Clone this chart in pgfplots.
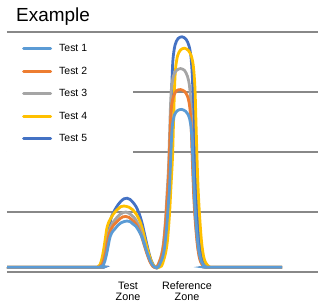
\documentclass[border=0pt]{standalone}
\usepackage{fontspec}
\setmainfont{Liberation Sans}
\usepackage{pgfplots}
\pgfplotsset{compat=1.18}
\definecolor{cA}{HTML}{5B9BD5}
\definecolor{cB}{HTML}{ED7D31}
\definecolor{cC}{HTML}{A5A5A5}
\definecolor{cD}{HTML}{FFC000}
\definecolor{cE}{HTML}{4472C4}
\definecolor{gridgray}{HTML}{888888}
\begin{document}
\begin{tikzpicture}
\useasboundingbox (-7bp,-30bp) rectangle (311bp,272bp);
\begin{axis}[
 at={(0,0)}, anchor=south west,
 scale only axis, width=311bp, height=240bp,
 xmin=7, xmax=318, ymin=0, ymax=4,
 ytick={0,1,2,3,4}, yticklabels={}, ymajorgrids,
 grid style={line width=2bp, color=gridgray},
 axis line style={draw=none},
 tick style={draw=none},
 xtick={128,187}, xticklabels={Test\\Zone, Reference\\Zone},
 xticklabel style={align=center, font=\fontsize{10.8}{11}\selectfont, inner sep=0pt, yshift=-10bp},
 title={Example},
 title style={at={(0,1)}, anchor=base west, xshift=9bp, yshift=5bp, inner sep=0pt, font=\fontsize{19}{22}\selectfont},
 legend style={at={(0,1)}, anchor=north west, yshift=-1bp, draw=none, fill=white,
   inner xsep=15bp, inner ysep=4bp, row sep=0pt,
   font=\fontsize{10.5}{12}\selectfont, nodes={inner sep=0pt, minimum height=22.6bp}},
 legend image code/.code={\draw[#1, line cap=round, line width=3bp] (1.5bp,0pt) -- (28.5bp,0pt);},
 legend cell align=left,
 reverse legend,
 every axis plot/.append style={line width=2.8bp, smooth, tension=0.5},
]
% Test 5
\addplot[cE] coordinates {(7,0.08)(98,0.08)(101,0.09)(103,0.13)(105,0.25)(107,0.45)(108.5,0.65)(110,0.82)(112,0.94)(115,1.04)(118,1.12)(121,1.18)(124,1.22)(127,1.23)(130,1.21)(133,1.16)(136,1.09)(139,0.98)(142,0.82)(145,0.60)(148,0.38)(151,0.20)(154,0.10)(157,0.07)
(159,0.10)(161,0.20)(163,0.32)(165,0.55)(167,1.00)(168.5,1.50)(170,2.00)(171,2.60)(172,3.20)(173,3.55)(175,3.78)(178,3.89)(182,3.92)(186,3.88)(189,3.77)(191,3.58)(192.5,3.20)(193.5,2.60)(194.5,2.00)(195.5,1.50)(197,1.00)(199,0.53)(201,0.28)(203,0.16)(206,0.10)(210,0.08)(282,0.08)};
\addlegendentry{\makebox[66bp][l]{\hspace{7bp}Test 5}}
% Test 4
\addplot[cD] coordinates {(7,0.08)(95,0.08)(98,0.09)(100,0.12)(102,0.23)(104,0.41)(105.5,0.58)(107,0.74)(109,0.84)(112,0.93)(115,1.00)(118,1.05)(121,1.09)(124,1.10)(129,1.08)(132.5,1.04)(136,0.97)(139,0.88)(142,0.74)(145,0.54)(148,0.35)(151,0.19)(154,0.10)(157,0.07)
(161.5,0.10)(163.5,0.19)(165.5,0.31)(167.5,0.53)(169.5,0.96)(171,1.43)(172.5,1.91)(173.5,2.48)(174.5,3.05)(175.5,3.38)(177.5,3.60)(180.5,3.70)(184.5,3.73)(188.5,3.69)(191.5,3.59)(193.5,3.41)(195,3.05)(196,2.48)(197,1.91)(198,1.43)(199.5,0.96)(201.5,0.51)(203.5,0.27)(205.5,0.16)(208.5,0.10)(212.5,0.08)(282,0.08)};
\addlegendentry{\makebox[66bp][l]{\hspace{7bp}Test 4}}
% Test 3
\addplot[cC] coordinates {(7,0.08)(97,0.08)(100,0.09)(102,0.12)(104,0.22)(106,0.38)(107.5,0.54)(109,0.67)(111,0.77)(114,0.85)(117,0.91)(120,0.96)(123,0.99)(126,1.00)(129,0.98)(132,0.94)(135,0.89)(138,0.80)(141,0.67)(144,0.50)(147,0.32)(150,0.18)(153,0.10)(156,0.07)
(157.5,0.10)(159.5,0.18)(161.5,0.29)(163.5,0.49)(165.5,0.87)(167,1.30)(168.5,1.74)(169.5,2.25)(170.5,2.77)(171.5,3.07)(173.5,3.27)(176.5,3.36)(180.5,3.39)(184.5,3.36)(187.5,3.26)(189.5,3.10)(191,2.77)(192,2.25)(193,1.74)(194,1.30)(195.5,0.87)(197.5,0.47)(199.5,0.25)(201.5,0.15)(204.5,0.10)(208.5,0.08)(282,0.08)};
\addlegendentry{\makebox[66bp][l]{\hspace{7bp}Test 3}}
% Test 2
\addplot[cB] coordinates {(7,0.08)(97,0.08)(100,0.09)(102,0.12)(104,0.21)(106,0.35)(107.5,0.50)(109,0.62)(111,0.71)(114,0.79)(117,0.84)(120,0.89)(123,0.92)(126,0.925)(129,0.91)(132,0.87)(135,0.82)(138,0.74)(141,0.62)(144,0.46)(147,0.30)(150,0.17)(153,0.09)(156,0.07)
(157.5,0.10)(159.5,0.17)(161.5,0.27)(163.5,0.44)(165.5,0.79)(167,1.18)(168.5,1.56)(169.5,2.02)(170.5,2.49)(171.5,2.76)(173.5,2.93)(176.5,3.02)(180.5,3.04)(184.5,3.01)(187.5,2.93)(189.5,2.78)(191,2.49)(192,2.02)(193,1.56)(194,1.18)(195.5,0.79)(197.5,0.43)(199.5,0.23)(201.5,0.14)(204.5,0.10)(208.5,0.08)(282,0.08)};
\addlegendentry{\makebox[66bp][l]{\hspace{7bp}Test 2}}
% Test 1
\addplot[cA] coordinates {(7,0.08)(98,0.08)(101,0.09)(103,0.11)(105,0.19)(107,0.33)(108.5,0.46)(110,0.58)(112,0.66)(115,0.72)(118,0.78)(121,0.82)(124,0.84)(127,0.85)(130,0.84)(133,0.80)(136,0.76)(139,0.68)(142,0.58)(145,0.43)(148,0.28)(151,0.16)(154,0.09)(157,0.07)
(158.5,0.09)(160.5,0.16)(162.5,0.24)(164.5,0.40)(166.5,0.71)(168,1.05)(169.5,1.40)(170.5,1.81)(171.5,2.22)(172.5,2.46)(174.5,2.62)(177.5,2.69)(181.5,2.71)(185.5,2.68)(188.5,2.61)(190.5,2.48)(192,2.22)(193,1.81)(194,1.40)(195,1.05)(196.5,0.71)(198.5,0.39)(200.5,0.22)(202.5,0.14)(205.5,0.09)(209.5,0.08)(282,0.08)};
\addlegendentry{\makebox[66bp][l]{\hspace{7bp}Test 1}}
\end{axis}
\end{tikzpicture}
\end{document}
